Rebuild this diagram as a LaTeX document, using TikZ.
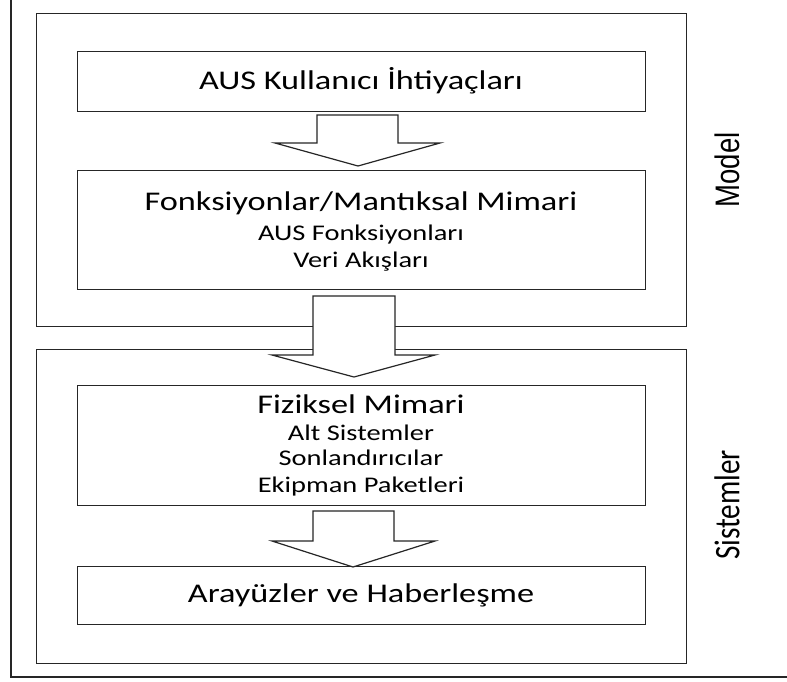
\documentclass[tikz,border=0pt]{standalone}
\usepackage{graphicx}
\usepackage{fontspec}
\setmainfont{Carlito}
\newfontfamily\labelsans{Liberation Sans}
% wide lettering used throughout the boxes
\newcommand\wide[1]{\scalebox{1.27}[1]{#1}}
\newcommand\headsize{\fontsize{27pt}{30pt}\selectfont}
\newcommand\itemsize{\fontsize{22.4pt}{26pt}\selectfont}
\begin{document}
\begin{tikzpicture}[x=1pt,y=-1pt,
  frame/.style={draw=black!85, line width=1.2pt},
  box/.style={draw=black!85, line width=1.2pt, fill=white, inner sep=0pt, anchor=north west},
  bigarrow/.style={draw=black!85, line width=1.2pt, fill=white, line join=miter},
  txt/.style={inner sep=0pt, anchor=base},
  sidelabel/.style={inner sep=0pt, rotate=90},
]
\useasboundingbox (0,0) rectangle (787,681);

% outer frame: only its left and bottom edges lie on the page
\draw[frame] (11,-5) -- (11,677) -- (795,677);

% the two groups
\node[box, minimum width=650pt, minimum height=313pt] (model) at (36,13) {};
\node[box, minimum width=650pt, minimum height=314pt] (systems) at (36,349) {};

% inner blocks
\node[box, minimum width=568pt, minimum height=60pt]  (needs)    at (77,51)  {};
\node[box, minimum width=568pt, minimum height=119pt] (logical)  at (77,170) {};
\node[box, minimum width=568pt, minimum height=120pt] (physical) at (77,385) {};
\node[box, minimum width=568pt, minimum height=58pt]  (ifaces)   at (77,566) {};

% block arrows between the blocks
\draw[bigarrow] (317,115) -- (398,115) -- (398,143) -- (440,143) -- (358,166)
                -- (275,143) -- (317,143) -- cycle;
\draw[bigarrow] (313,296) -- (395,296) -- (395,355) -- (435,355) -- (354,377)
                -- (272,355) -- (313,355) -- cycle;
\draw[bigarrow] (313,511) -- (394,511) -- (394,541) -- (435,541) -- (353,567)
                -- (272,541) -- (313,541) -- cycle;

% block texts
\node[txt, font=\headsize] (needsT) at (361,89) {\wide{AUS Kullanıcı İhtiyaçları}};

\node[txt, font=\headsize] (logT)  at (361,210) {\wide{Fonksiyonlar/Mantıksal Mimari}};
\node[txt, font=\itemsize] (logA)  at (361,240) {\wide{AUS Fonksiyonları}};
\node[txt, font=\itemsize] (logB)  at (361,267) {\wide{Veri Akışları}};

\node[txt, font=\headsize] (phyT)  at (361,413) {\wide{Fiziksel Mimari}};
\node[txt, font=\itemsize] (phyA)  at (361,440) {\wide{Alt Sistemler}};
\node[txt, font=\itemsize] (phyB)  at (361,465) {\wide{Sonlandırıcılar}};
\node[txt, font=\itemsize] (phyC)  at (361,492) {\wide{Ekipman Paketleri}};

\node[txt, font=\headsize] (ifT)   at (361,602) {\wide{Arayüzler ve Haberleşme}};

% group labels on the right
\node[sidelabel, font=\labelsans\fontsize{34pt}{36pt}\selectfont] (modelL) at (727,170)
  {\scalebox{0.81}[1]{Model}};
\node[sidelabel, font=\fontsize{36pt}{38pt}\selectfont] (systemsL) at (727,505)
  {\scalebox{0.81}[1]{Sistemler}};
\end{tikzpicture}
\end{document}
